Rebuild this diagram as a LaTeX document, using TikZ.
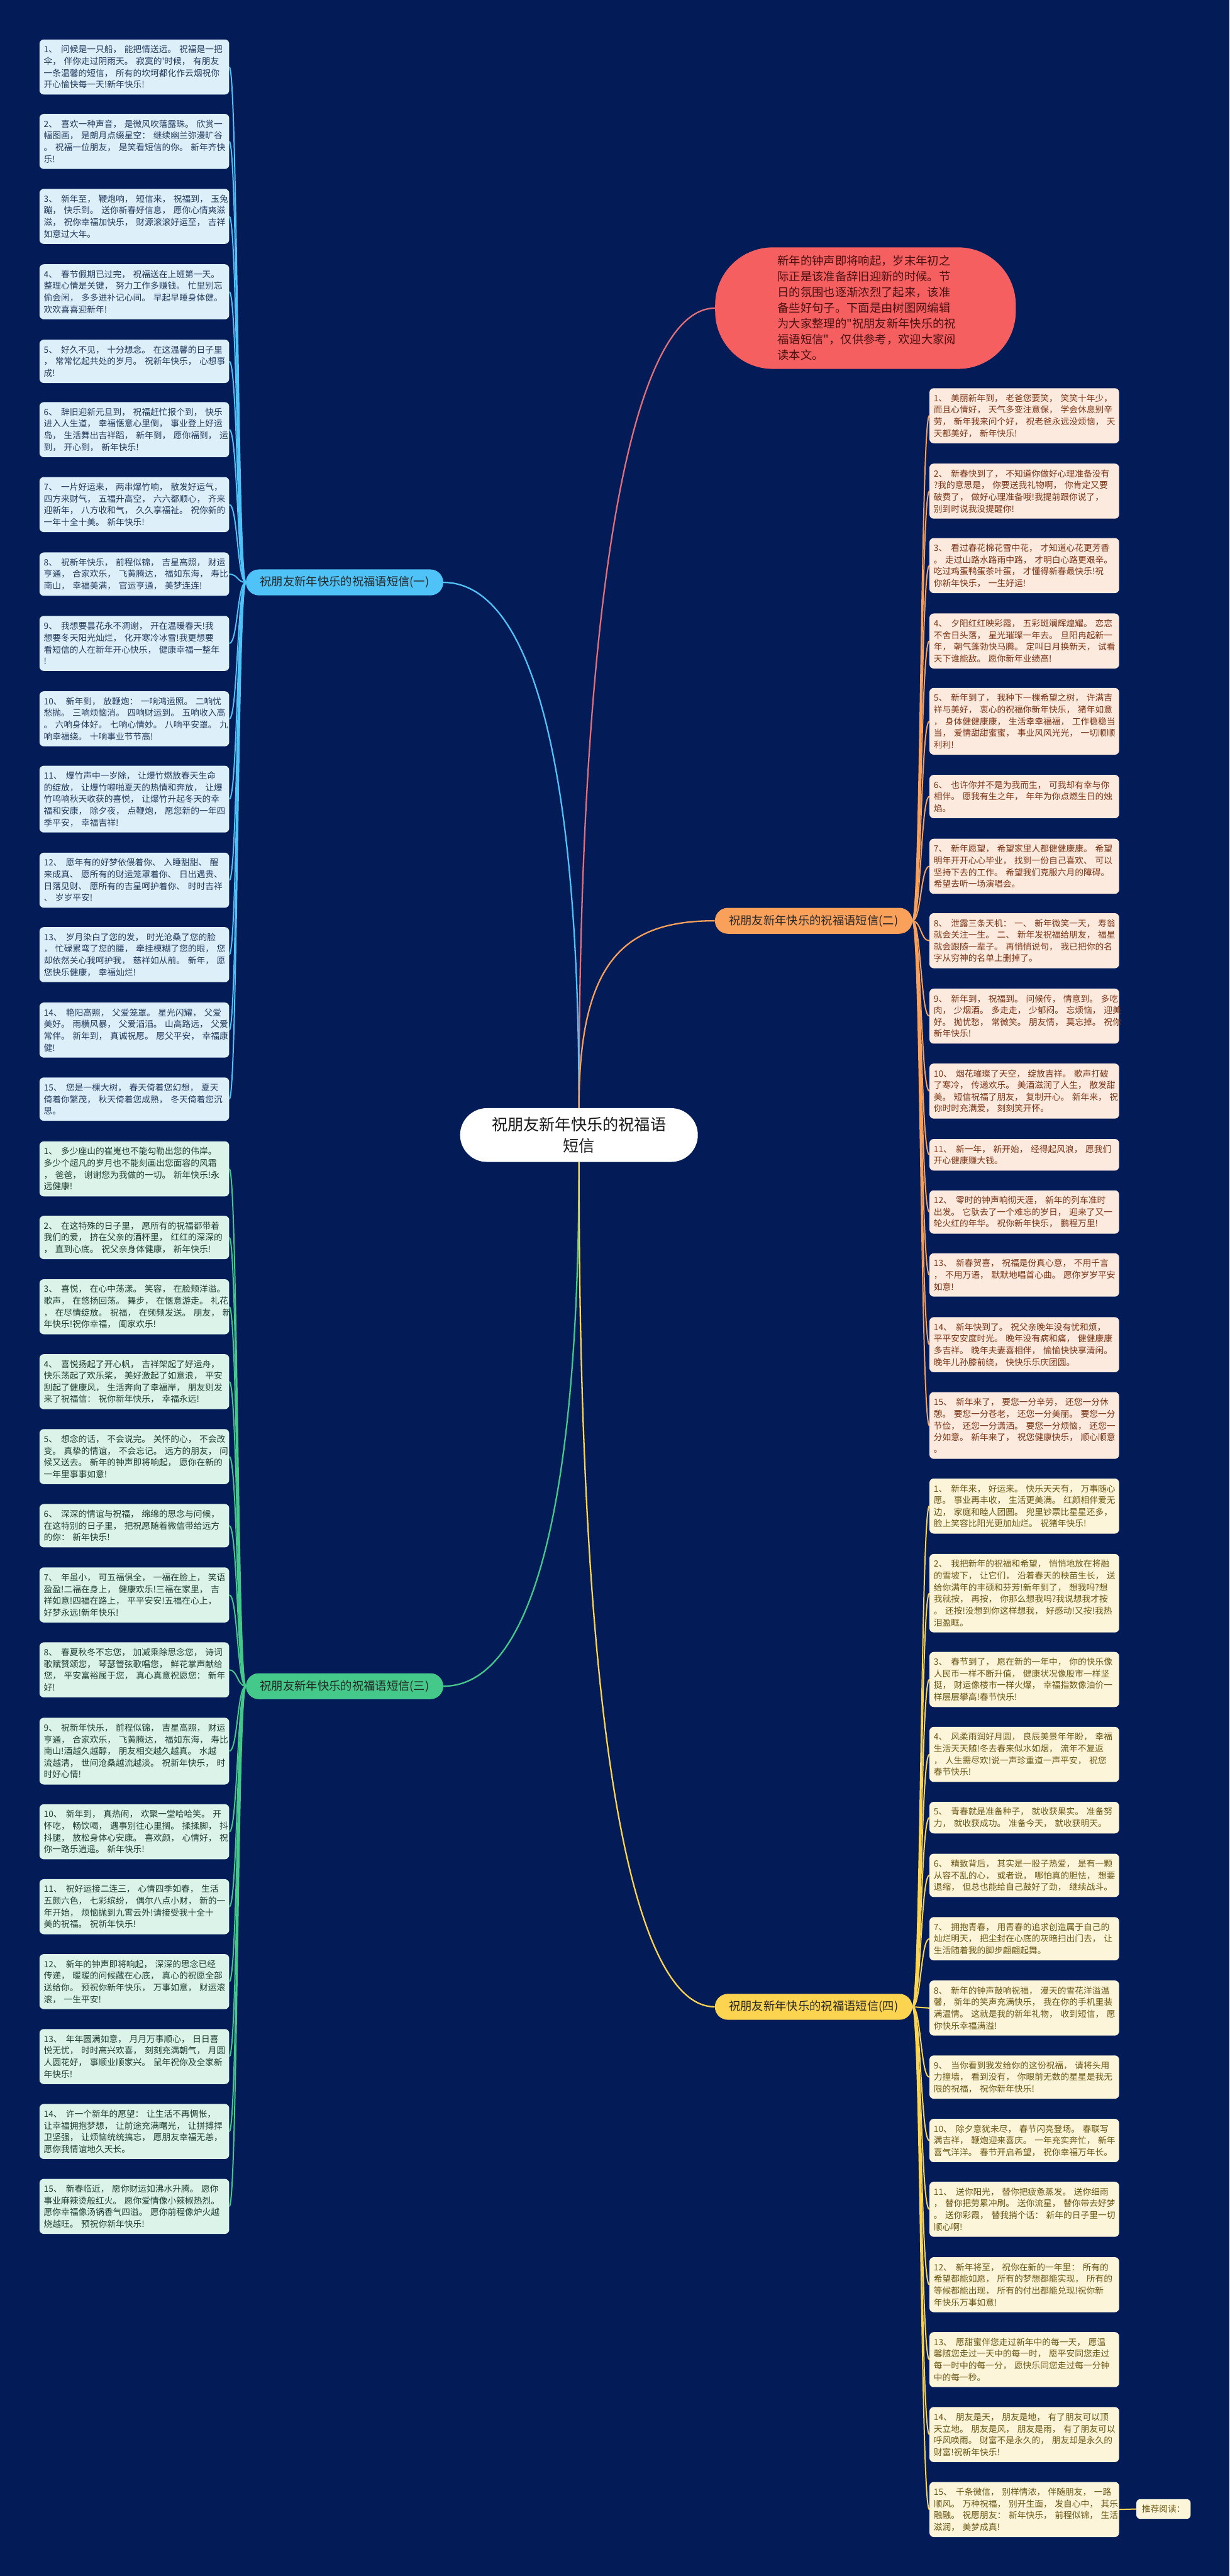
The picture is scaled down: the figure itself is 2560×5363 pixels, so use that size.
\documentclass[tikz,border=0pt]{standalone}
\usepackage{fontspec}
\newfontfamily\cjk{Noto Sans CJK SC}
\newcommand\nm[1]{#1、\kern8pt\relax}
\definecolor{bg}{HTML}{031C57}
\definecolor{bfill}{HTML}{4FC3F7}
\definecolor{bleaf}{HTML}{DDF0FA}
\definecolor{btext}{HTML}{223A5E}
\definecolor{gfill}{HTML}{45C98B}
\definecolor{gleaf}{HTML}{DCF3E9}
\definecolor{gtext}{HTML}{1E3D33}
\definecolor{ofill}{HTML}{F9A15B}
\definecolor{oleaf}{HTML}{FDEADF}
\definecolor{otext}{HTML}{7A3413}
\definecolor{yfill}{HTML}{FDD44F}
\definecolor{yleaf}{HTML}{FDF5D9}
\definecolor{ytext}{HTML}{6A5612}
\definecolor{rfill}{HTML}{F65F5F}
\definecolor{rtext}{HTML}{4A1012}
\definecolor{rline}{HTML}{E0707A}
\begin{document}
\begin{tikzpicture}[x=1pt,y=-1pt,
 leaf/.style={rounded corners=9pt, inner xsep=9pt, inner ysep=0pt, text width=377pt, align=left, anchor=north west, font=\cjk\fontsize{18}{24.4}\selectfont},
 bl/.style={leaf, fill=bleaf, text=btext},
 gl/.style={leaf, fill=gleaf, text=gtext},
 ol/.style={leaf, fill=oleaf, text=otext},
 yl/.style={leaf, fill=yleaf, text=ytext},
 ht2/.style={minimum height=65.8pt},
 ht3/.style={minimum height=90.2pt},
 ht4/.style={minimum height=114.6pt},
 ht5/.style={minimum height=139pt},
 ht6/.style={minimum height=163.4pt},
 branch/.style={rounded corners=27pt, minimum width=411pt, minimum height=54pt, inner sep=0pt, font=\cjk\fontsize{24}{28}\selectfont, text=black!85},
 bline/.style={draw=bfill, line width=2.6pt},
 gline/.style={draw=gfill, line width=2.6pt},
 oline/.style={draw=ofill, line width=2.6pt},
 yline/.style={draw=yfill, line width=2.6pt},
]
\fill[bg] (0,0) rectangle (2560,5363);
\useasboundingbox (0,0) rectangle (2560,5363);

% center and intro
\node[fill=white, rounded corners=56pt, minimum width=495pt, minimum height=112pt, inner sep=0pt, align=center, text=black!90, font=\cjk\fontsize{33}{44}\selectfont] (C) at (1205.5,2363) {祝朋友新年快乐的祝福语\\短信};
\node[fill=rfill, rounded corners=120pt, minimum width=626pt, minimum height=253pt, inner sep=0pt, text width=366pt, align=left, text=rtext, font=\cjk\fontsize{24}{32.7}\selectfont] (R) at (1802,641.5) {新年的钟声即将响起，岁末年初之\\际正是该准备辞旧迎新的时候。节\\日的氛围也逐渐浓烈了起来，该准\\备些好句子。下面是由树图网编辑\\为大家整理的"祝朋友新年快乐的祝\\福语短信"，仅供参考，欢迎大家阅\\读本文。};

% branches
\node[branch, fill=bfill] (B) at (717.5,1212.5) {祝朋友新年快乐的祝福语短信(一)};
\node[branch, fill=ofill] (O) at (1694,1917) {祝朋友新年快乐的祝福语短信(二)};
\node[branch, fill=gfill] (G) at (717.5,3510.5) {祝朋友新年快乐的祝福语短信(三)};
\node[branch, fill=yfill] (Y) at (1694,4178) {祝朋友新年快乐的祝福语短信(四)};

% blue leaves
\node[bl,ht4] (b1) at (82,82) {\nm{1}问候是一只船，~能把情送远。~祝福是一把\\伞，~伴你走过阴雨天。~寂寞的'时候，~有朋友\\一条温馨的短信，~所有的坎坷都化作云烟祝你\\开心愉快每一天!新年快乐!};
\node[bl,ht4] (b2) at (82,237) {\nm{2}喜欢一种声音，~是微风吹落露珠。~欣赏一\\幅图画，~是朗月点缀星空：~继续幽兰弥漫旷谷\\。~祝福一位朋友，~是笑看短信的你。~新年齐快\\乐!};
\node[bl,ht4] (b3) at (82,393) {\nm{3}新年至，~鞭炮响，~短信来，~祝福到，~玉兔\\蹦，~快乐到。~送你新春好信息，~愿你心情爽滋\\滋，~祝你幸福加快乐，~财源滚滚好运至，~吉祥\\如意过大年。};
\node[bl,ht4] (b4) at (82,550) {\nm{4}春节假期已过完，~祝福送在上班第一天。\\整理心情是关键，~努力工作多赚钱。~忙里别忘\\偷会闲，~多多进补记心间。~早起早睡身体健。\\欢欢喜喜迎新年!};
\node[bl,ht3] (b5) at (82,707) {\nm{5}好久不见，~十分想念。~在这温馨的日子里\\，~常常忆起共处的岁月。~祝新年快乐，~心想事\\成!};
\node[bl,ht4] (b6) at (82,837) {\nm{6}辞旧迎新元旦到，~祝福赶忙报个到，~快乐\\进入人生道，~幸福惬意心里倒，~事业登上好运\\岛，~生活舞出吉祥蹈，~新年到，~愿你福到，~运\\到，~开心到，~新年快乐!};
\node[bl,ht4] (b7) at (82,993) {\nm{7}一片好运来，~两串爆竹响，~散发好运气，\\四方来财气，~五福升高空，~六六都顺心，~齐来\\迎新年，~八方收和气，~久久享福祉。~祝你新的\\一年十全十美。~新年快乐!};
\node[bl,ht3] (b8) at (82,1150) {\nm{8}祝新年快乐，~前程似锦，~吉星高照，~财运\\亨通，~合家欢乐，~飞黄腾达，~福如东海，~寿比\\南山，~幸福美满，~官运亨通，~美梦连连!};
\node[bl,ht4] (b9) at (82,1282) {\nm{9}我想要昙花永不凋谢，~开在温暖春天!我\\想要冬天阳光灿烂，~化开寒冷冰雪!我更想要\\看短信的人在新年开心快乐，~健康幸福一整年\\!};
\node[bl,ht4] (b10) at (82,1439) {\nm{10}新年到，~放鞭炮：~一响鸿运照。~二响忧\\愁抛。~三响烦恼消。~四响财运到。~五响收入高\\。~六响身体好。~七响心情妙。~八响平安罩。~九\\响幸福绕。~十响事业节节高!};
\node[bl,ht5] (b11) at (82,1594) {\nm{11}爆竹声中一岁除，~让爆竹燃放春天生命\\的绽放，~让爆竹噼啪夏天的热情和奔放，~让爆\\竹鸣响秋天收获的喜悦，~让爆竹升起冬天的幸\\福和安康，~除夕夜，~点鞭炮，~愿您新的一年四\\季平安，~幸福吉祥!};
\node[bl,ht4] (b12) at (82,1775) {\nm{12}愿年有的好梦依偎着你、~入睡甜甜、~醒\\来成真、~愿所有的财运笼罩着你、~日出遇贵、\\日落见财、~愿所有的吉星呵护着你、~时时吉祥\\、~岁岁平安!};
\node[bl,ht4] (b13) at (82,1930) {\nm{13}岁月染白了您的发，~时光沧桑了您的脸\\，~忙碌累弯了您的腰，~牵挂模糊了您的眼，~您\\却依然关心我呵护我，~慈祥如从前。~新年，~愿\\您快乐健康，~幸福灿烂!};
\node[bl,ht4] (b14) at (82,2087) {\nm{14}艳阳高照，~父爱笼罩。~星光闪耀，~父爱\\美好。~雨横风暴，~父爱滔滔。~山高路远，~父爱\\常伴。~新年到，~真诚祝愿。~愿父平安，~幸福康\\健!};
\node[bl,ht3] (b15) at (82,2243) {\nm{15}您是一棵大树，~春天倚着您幻想，~夏天\\倚着你繁茂，~秋天倚着您成熟，~冬天倚着您沉\\思。};

% green leaves
\node[gl,ht4] (g1) at (82,2376) {\nm{1}多少座山的崔嵬也不能勾勒出您的伟岸。\\多少个超凡的岁月也不能刻画出您面容的风霜\\，~爸爸，~谢谢您为我做的一切。~新年快乐!永\\远健康!};
\node[gl,ht3] (g2) at (82,2531) {\nm{2}在这特殊的日子里，~愿所有的祝福都带着\\我们的爱，~挤在父亲的酒杯里，~红红的深深的\\，~直到心底。~祝父亲身体健康，~新年快乐!};
\node[gl,ht4] (g3) at (82,2663) {\nm{3}喜悦，~在心中荡漾。~笑容，~在脸颊洋溢。\\歌声，~在悠扬回荡。~舞步，~在惬意游走。~礼花\\，~在尽情绽放。~祝福，~在频频发送。~朋友，~新\\年快乐!祝你幸福，~阖家欢乐!};
\node[gl,ht4] (g4) at (82,2819) {\nm{4}喜悦扬起了开心帆，~吉祥架起了好运舟，\\快乐荡起了欢乐桨，~美好激起了如意浪，~平安\\刮起了健康风，~生活奔向了幸福岸，~朋友则发\\来了祝福信：~祝你新年快乐，~幸福永远!};
\node[gl,ht4] (g5) at (82,2975) {\nm{5}想念的话，~不会说完。~关怀的心，~不会改\\变。~真挚的情谊，~不会忘记。~远方的朋友，~问\\候又送去。~新年的钟声即将响起，~愿你在新的\\一年里事事如意!};
\node[gl,ht3] (g6) at (82,3131) {\nm{6}深深的情谊与祝福，~绵绵的思念与问候，\\在这特别的日子里，~把祝愿随着微信带给远方\\的你：~新年快乐!};
\node[gl,ht4] (g7) at (82,3263) {\nm{7}年虽小，~可五福俱全，~一福在脸上，~笑语\\盈盈!二福在身上，~健康欢乐!三福在家里，~吉\\祥如意!四福在路上，~平平安安!五福在心上，\\好梦永远!新年快乐!};
\node[gl,ht4] (g8) at (82,3419) {\nm{8}春夏秋冬不忘您，~加减乘除思念您，~诗词\\歌赋赞颂您，~琴瑟管弦歌唱您，~鲜花掌声献给\\您，~平安富裕属于您，~真心真意祝愿您：~新年\\好!};
\node[gl,ht5] (g9) at (82,3576) {\nm{9}祝新年快乐，~前程似锦，~吉星高照，~财运\\亨通，~合家欢乐，~飞黄腾达，~福如东海，~寿比\\南山!酒越久越醇，~朋友相交越久越真。~水越\\流越清，~世间沧桑越流越淡。~祝新年快乐，~时\\时好心情!};
\node[gl,ht4] (g10) at (82,3756) {\nm{10}新年到，~真热闹，~欢聚一堂哈哈笑。~开\\怀吃，~畅饮喝，~遇事别往心里搁。~揉揉脚，~抖\\抖腿，~放松身体心安康。~喜欢颜，~心情好，~祝\\你一路乐逍遥。~新年快乐!};
\node[gl,ht4] (g11) at (82,3912) {\nm{11}祝好运接二连三，~心情四季如春，~生活\\五颜六色，~七彩缤纷，~偶尔八点小财，~新的一\\年开始，~烦恼抛到九霄云外!请接受我十全十\\美的祝福。~祝新年快乐!};
\node[gl,ht4] (g12) at (82,4068) {\nm{12}新年的钟声即将响起，~深深的思念已经\\传递，~暖暖的问候藏在心底，~真心的祝愿全部\\送给你。~预祝你新年快乐，~万事如意，~财运滚\\滚，~一生平安!};
\node[gl,ht4] (g13) at (82,4224) {\nm{13}年年圆满如意，~月月万事顺心，~日日喜\\悦无忧，~时时高兴欢喜，~刻刻充满朝气，~月圆\\人圆花好，~事顺业顺家兴。~鼠年祝你及全家新\\年快乐!};
\node[gl,ht4] (g14) at (82,4380) {\nm{14}许一个新年的愿望：~让生活不再惆怅，\\让幸福拥抱梦想，~让前途充满曙光，~让拼搏捍\\卫坚强，~让烦恼统统搞忘，~愿朋友幸福无恙，\\愿你我情谊地久天长。};
\node[gl,ht4] (g15) at (82,4536) {\nm{15}新春临近，~愿你财运如沸水升腾。~愿你\\事业麻辣烫般红火。~愿你爱情像小辣椒热烈。\\愿你幸福像汤锅香气四溢。~愿你前程像炉火越\\烧越旺。~预祝你新年快乐!};

% orange leaves
\node[ol,ht4] (o1) at (1935,808) {\nm{1}美丽新年到，~老爸您要笑，~笑笑十年少，\\而且心情好，~天气多变注意保，~学会休息别辛\\劳，~新年我来问个好，~祝老爸永远没烦恼，~天\\天都美好，~新年快乐!};
\node[ol,ht4] (o2) at (1935,965) {\nm{2}新春快到了，~不知道你做好心理准备没有\\?我的意思是，~你要送我礼物啊，~你肯定又要\\破费了，~做好心理准备哦!我提前跟你说了，\\别到时说我没提醒你!};
\node[ol,ht4] (o3) at (1935,1120) {\nm{3}看过春花棉花雪中花，~才知道心花更芳香\\。~走过山路水路雨中路，~才明白心路更艰辛。\\吃过鸡蛋鸭蛋茶叶蛋，~才懂得新春最快乐!祝\\你新年快乐，~一生好运!};
\node[ol,ht4] (o4) at (1935,1277) {\nm{4}夕阳红红映彩霞，~五彩斑斓辉煌耀。~恋恋\\不舍日头落，~星光璀璨一年去。~旦阳冉起新一\\年，~朝气蓬勃快马腾。~定叫日月换新天，~试看\\天下谁能敌。~愿你新年业绩高!};
\node[ol,ht5] (o5) at (1935,1432) {\nm{5}新年到了，~我种下一棵希望之树，~许满吉\\祥与美好，~衷心的祝福你新年快乐，~猪年如意\\，~身体健健康康，~生活幸幸福福，~工作稳稳当\\当，~爱情甜甜蜜蜜，~事业风风光光，~一切顺顺\\利利!};
\node[ol,ht3] (o6) at (1935,1613) {\nm{6}也许你并不是为我而生，~可我却有幸与你\\相伴。~愿我有生之年，~年年为你点燃生日的烛\\焰。};
\node[ol,ht4] (o7) at (1935,1746) {\nm{7}新年愿望，~希望家里人都健健康康。~希望\\明年开开心心毕业，~找到一份自己喜欢、~可以\\坚持下去的工作。~希望我们克服六月的障碍。\\希望去听一场演唱会。};
\node[ol,ht4] (o8) at (1935,1901) {\nm{8}泄露三条天机：~一、~新年微笑一天，~寿翁\\就会关注一生。~二、~新年发祝福给朋友，~福星\\就会跟随一辈子。~再悄悄说句，~我已把你的名\\字从穷神的名单上删掉了。};
\node[ol,ht4] (o9) at (1935,2058) {\nm{9}新年到，~祝福到。~问候传，~情意到。~多吃\\肉，~少烟酒。~多走走，~少郁闷。~忘烦恼，~迎美\\好。~抛忧愁，~常微笑。~朋友情，~莫忘掉。~祝你\\新年快乐!};
\node[ol,ht4] (o10) at (1935,2214) {\nm{10}烟花璀璨了天空，~绽放吉祥。~歌声打破\\了寒冷，~传递欢乐。~美酒滋润了人生，~散发甜\\美。~短信祝福了朋友，~复制开心。~新年来，~祝\\你时时充满爱，~刻刻笑开怀。};
\node[ol,ht2] (o11) at (1935,2371) {\nm{11}新一年，~新开始，~经得起风浪，~愿我们\\开心健康赚大钱。};
\node[ol,ht3] (o12) at (1935,2478) {\nm{12}零时的钟声响彻天涯，~新年的列车准时\\出发。~它驮去了一个难忘的岁日，~迎来了又一\\轮火红的年华。~祝你新年快乐，~鹏程万里!};
\node[ol,ht3] (o13) at (1935,2609) {\nm{13}新春贺喜，~祝福是份真心意，~不用千言\\，~不用万语，~默默地唱首心曲。~愿你岁岁平安\\如意!};
\node[ol,ht4] (o14) at (1935,2742) {\nm{14}新年快到了。~祝父亲晚年没有忧和烦，\\平平安安度时光。~晚年没有病和痛，~健健康康\\多吉祥。~晚年夫妻喜相伴，~愉愉快快享清闲。\\晚年儿孙膝前绕，~快快乐乐庆团圆。};
\node[ol,ht5] (o15) at (1935,2898) {\nm{15}新年来了，~要您一分辛劳，~还您一分休\\憩。~要您一分苍老，~还您一分美丽。~要您一分\\节俭，~还您一分潇洒。~要您一分烦恼，~还您一\\分如意。~新年来了，~祝您健康快乐，~顺心顺意\\。};

% yellow leaves
\node[yl,ht4] (y1) at (1935,3078) {\nm{1}新年来，~好运来。~快乐天天有，~万事随心\\愿。~事业再丰收，~生活更美满。~红颜相伴爱无\\边，~家庭和睦人团圆。~兜里钞票比星星还多，\\脸上笑容比阳光更加灿烂。~祝猪年快乐!};
\node[yl,ht6] (y2) at (1935,3235) {\nm{2}我把新年的祝福和希望，~悄悄地放在将融\\的雪坡下，~让它们，~沿着春天的秧苗生长，~送\\给你满年的丰硕和芬芳!新年到了，~想我吗?想\\我就按，~再按，~你那么想我吗?我说想我才按\\。~还按!没想到你这样想我，~好感动!又按!我热\\泪盈眶。};
\node[yl,ht4] (y3) at (1935,3439) {\nm{3}春节到了，~愿在新的一年中，~你的快乐像\\人民币一样不断升值，~健康状况像股市一样坚\\挺，~财运像楼市一样火爆，~幸福指数像油价一\\样层层攀高!春节快乐!};
\node[yl,ht4] (y4) at (1935,3595) {\nm{4}风柔雨润好月圆，~良辰美景年年盼，~幸福\\生活天天随!冬去春来似水如烟，~流年不复返\\，~人生需尽欢!说一声珍重道一声平安，~祝您\\春节快乐!};
\node[yl,ht2] (y5) at (1935,3751) {\nm{5}青春就是准备种子，~就收获果实。~准备努\\力，~就收获成功。~准备今天，~就收获明天。};
\node[yl,ht3] (y6) at (1935,3859) {\nm{6}精致背后，~其实是一股子热爱，~是有一颗\\从容不乱的心，~或者说，~哪怕真的胆怯，~想要\\退缩，~但总也能给自己鼓好了劲，~继续战斗。};
\node[yl,ht3] (y7) at (1935,3991) {\nm{7}拥抱青春，~用青春的追求创造属于自己的\\灿烂明天，~把尘封在心底的灰暗扫出门去，~让\\生活随着我的脚步翩翩起舞。};
\node[yl,ht4] (y8) at (1935,4123) {\nm{8}新年的钟声敲响祝福，~漫天的雪花洋溢温\\馨，~新年的笑声充满快乐，~我在你的手机里装\\满温情。~这就是我的新年礼物，~收到短信，~愿\\你快乐幸福满溢!};
\node[yl,ht3] (y9) at (1935,4279) {\nm{9}当你看到我发给你的这份祝福，~请将头用\\力撞墙，~看到没有，~你眼前无数的星星是我无\\限的祝福，~祝你新年快乐!};
\node[yl,ht3] (y10) at (1935,4411) {\nm{10}除夕意犹未尽，~春节闪亮登场。~春联写\\满吉祥，~鞭炮迎来喜庆。~一年充实奔忙，~新年\\喜气洋洋。~春节开启希望，~祝你幸福万年长。};
\node[yl,ht4] (y11) at (1935,4542) {\nm{11}送你阳光，~替你把疲惫蒸发。~送你细雨\\，~替你把劳累冲刷。~送你流星，~替你带去好梦\\。~送你彩霞，~替我捎个话：~新年的日子里一切\\顺心啊!};
\node[yl,ht4] (y12) at (1935,4699) {\nm{12}新年将至，~祝你在新的一年里：~所有的\\希望都能如愿，~所有的梦想都能实现，~所有的\\等候都能出现，~所有的付出都能兑现!祝你新\\年快乐万事如意!};
\node[yl,ht4] (y13) at (1935,4855) {\nm{13}愿甜蜜伴您走过新年中的每一天，~愿温\\馨随您走过一天中的每一时，~愿平安同您走过\\每一时中的每一分，~愿快乐同您走过每一分钟\\中的每一秒。};
\node[yl,ht4] (y14) at (1935,5011) {\nm{14}朋友是天，~朋友是地，~有了朋友可以顶\\天立地。~朋友是风，~朋友是雨，~有了朋友可以\\呼风唤雨。~财富不是永久的，~朋友却是永久的\\财富!祝新年快乐!};
\node[yl,ht4] (y15) at (1935,5167) {\nm{15}千条微信，~别样情浓，~伴随朋友，~一路\\顺风。~万种祝福，~别开生面，~发自心中，~其乐\\融融。~祝愿朋友：~新年快乐，~前程似锦，~生活\\滋润，~美梦成真!};
\node[fill=yleaf, text=ytext, rounded corners=8pt, minimum width=113pt, minimum height=41pt, inner sep=0pt, font=\cjk\fontsize{18}{22}\selectfont] (rec) at (2422.5,5223.5) {推荐阅读：};

% main connectors
\draw[draw=rline, line width=3pt] (C.north) .. controls (1205.5,1200) and (1320,641.5) .. (R.west);
\draw[draw=bfill, line width=3pt] (C.north) .. controls (1205.5,1400) and (1050,1212.5) .. (B.east);
\draw[draw=ofill, line width=3pt] (C.north) .. controls (1205.5,2000) and (1300,1917) .. (O.west);
\draw[draw=gfill, line width=3pt] (C.south) .. controls (1205.5,3330) and (1050,3510.5) .. (G.east);
\draw[draw=yfill, line width=3pt] (C.south) .. controls (1205.5,3700) and (1330,4178) .. (Y.west);

% leaf connectors
\foreach \i in {1,...,15}{
 \draw[bline] (B.west) .. controls +(-17.5,0) and +(17.5,0) .. (b\i.east);
 \draw[gline] (G.west) .. controls +(-17.5,0) and +(17.5,0) .. (g\i.east);
 \draw[oline] (O.east) .. controls +(18,0) and +(-18,0) .. (o\i.west);
 \draw[yline] (Y.east) .. controls +(18,0) and +(-18,0) .. (y\i.west);
}
\draw[yline] (y15.east) -- (rec.west);
\end{tikzpicture}
\end{document}
